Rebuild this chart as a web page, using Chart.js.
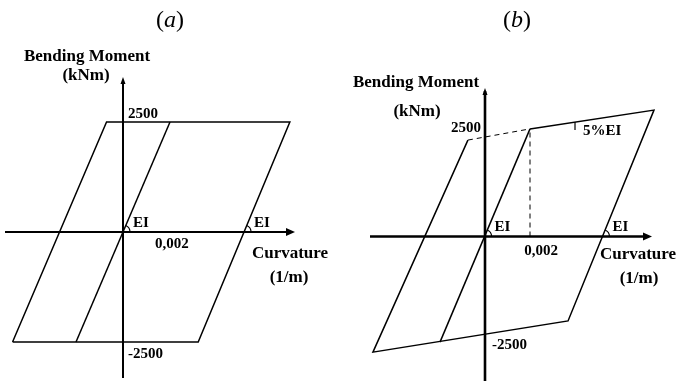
<!DOCTYPE html>
<html>
<head>
<meta charset="utf-8">
<script src="https://cdn.jsdelivr.net/npm/chart.js@4.4.0/dist/chart.umd.min.js"></script>
<style>
  body { margin: 0; background: #fff; }
  #wrap { position: relative; width: 677px; height: 381px; overflow: hidden; background: #fff; }
  canvas { position: absolute; top: 0; }
  #panelA { left: 0; }
  #panelB { left: 340px; }
</style>
</head>
<body>
<div id="wrap">
  <canvas id="panelA" width="340" height="381"></canvas>
  <canvas id="panelB" width="337" height="381"></canvas>
</div>
<script>
// ─── (a) elastic - perfectly plastic loop ─────────────────────────────────
const loopA_curv   = [-0.0047, -0.0007, 0.0071, 0.0032, -0.0047];
const loopA_moment = [-2500, 2500, 2500, -2500, -2500];
const elasticA_curv   = [-0.002, 0.002];
const elasticA_moment = [-2500, 2500];

// ─── (b) bilinear loop, 5% hardening ──────────────────────────────────────
const loopB_curv   = [-0.00076, -0.00498, 0.00369, 0.00751, 0.002];
const loopB_moment = [2410, -2890, -2110, 3160, 2690];
const elasticB_curv   = [-0.002, 0.002];
const elasticB_moment = [-2640, 2690];
const hardenB_curv   = [-0.00076, 0.002];   // dashed back-extension
const hardenB_moment = [2410, 2690];
const yieldB_curv   = [0.002, 0.002];
const yieldB_moment = [0, 2690];

// tick labels
const momentTicks = [2500, -2500];
const curvTick = 0.002;
const curvTickLabel = '0,002';

const SERIF = '"Liberation Serif", "DejaVu Serif", serif';
const xy = (c, m) => c.map((v, i) => ({ x: v, y: m[i] }));

function line(data, extra) {
  return Object.assign({
    data, showLine: true, pointRadius: 0, borderColor: '#000',
    borderWidth: 1.5, fill: false, tension: 0, clip: false,
  }, extra || {});
}

// where a segment crosses M = 0
function zeroCross(p0, p1) {
  return p0.x + (0 - p0.y) * (p1.x - p0.x) / (p1.y - p0.y);
}

function text(ctx, str, x, y, align, font) {
  ctx.font = font;
  ctx.textAlign = align;
  ctx.textBaseline = 'middle';
  ctx.fillText(str, x, y);
}

// ─── Axes, arrows, EI arcs and labels (one plugin per panel) ──────────────
function figurePlugin(o) {
  return {
    id: 'figure',
    afterDatasetsDraw(chart) {
      const { ctx, chartArea: a } = chart;
      const sx = chart.scales.x, sy = chart.scales.y;
      const ox = sx.getPixelForValue(0), oy = sy.getPixelForValue(0);
      ctx.save();
      ctx.strokeStyle = '#000';
      ctx.fillStyle = '#000';

      // axes
      ctx.lineWidth = o.axisWidth;
      ctx.beginPath();
      ctx.moveTo(a.left, oy); ctx.lineTo(a.right - 4, oy);
      ctx.moveTo(ox, a.bottom); ctx.lineTo(ox, a.top + 3);
      ctx.stroke();
      ctx.beginPath();
      ctx.moveTo(a.right, oy);
      ctx.lineTo(a.right - o.xHead[0], oy - o.xHead[1]);
      ctx.lineTo(a.right - o.xHead[0], oy + o.xHead[1]);
      ctx.closePath();
      ctx.moveTo(ox, a.top);
      ctx.lineTo(ox - o.yHead[1], a.top + o.yHead[0]);
      ctx.lineTo(ox + o.yHead[1], a.top + o.yHead[0]);
      ctx.closePath();
      ctx.fill();

      // EI arcs where the elastic branches cut the curvature axis
      ctx.lineWidth = 1.2;
      o.elastic.forEach(([p0, p1]) => {
        const px = sx.getPixelForValue(zeroCross(p0, p1));
        const ang = Math.atan2(sy.getPixelForValue(p1.y) - sy.getPixelForValue(p0.y),
                               sx.getPixelForValue(p1.x) - sx.getPixelForValue(p0.x));
        ctx.beginPath();
        ctx.arc(px, oy, 7, ang, 0);
        ctx.stroke();
        text(ctx, 'EI', px + 10, oy - 9, 'left', 'bold 15px ' + SERIF);
      });

      // hardening slope tick
      if (o.slopeTick) {
        const [p0, p1, c] = o.slopeTick;
        const m = p0.y + (c - p0.x) * (p1.y - p0.y) / (p1.x - p0.x);
        const tx = sx.getPixelForValue(c), ty = sy.getPixelForValue(m);
        ctx.lineWidth = 1.2;
        ctx.beginPath();
        ctx.moveTo(tx, ty); ctx.lineTo(tx, ty + 8);
        ctx.stroke();
        text(ctx, '5%EI', tx + 8, ty + 9, 'left', 'bold 15px ' + SERIF);
      }

      // tick labels
      const num = 'bold 15px ' + SERIF;
      momentTicks.forEach(v => {
        const t = o.momentLabel(v, ox, sy.getPixelForValue(v));
        text(ctx, String(v), t[0], t[1], t[2], num);
      });
      text(ctx, curvTickLabel, sx.getPixelForValue(curvTick) + o.curvOff[0], oy + o.curvOff[1], 'center', num);

      // axis titles
      const lab = 'bold 17px ' + SERIF;
      o.labels.forEach(l => text(ctx, l[0], l[1], l[2], 'center', lab));

      // panel title: (a) / (b) with italic letter
      ctx.textBaseline = 'middle';
      ctx.textAlign = 'left';
      ctx.font = '24px ' + SERIF;
      const wp = ctx.measureText('(').width;
      ctx.font = 'italic 24px ' + SERIF;
      const wl = ctx.measureText(o.title).width;
      let x = o.titleX - (2 * wp + wl) / 2;
      ctx.font = '24px ' + SERIF;
      ctx.fillText('(', x, 21); x += wp;
      ctx.font = 'italic 24px ' + SERIF;
      ctx.fillText(o.title, x, 21); x += wl;
      ctx.font = '24px ' + SERIF;
      ctx.fillText(')', x, 21);
      ctx.restore();
    }
  };
}

function makePanel(id, datasets, scaleX, scaleY, padding, fig) {
  return new Chart(document.getElementById(id), {
    type: 'scatter',
    data: { datasets },
    options: {
      responsive: false,
      animation: false,
      devicePixelRatio: 1,
      layout: { padding },
      scales: {
        x: Object.assign({ type: 'linear', display: false }, scaleX),
        y: Object.assign({ type: 'linear', display: false }, scaleY),
      },
      plugins: { legend: { display: false }, tooltip: { enabled: false } },
    },
    plugins: [figurePlugin(fig)],
  });
}

const loopA = xy(loopA_curv, loopA_moment);
const elasticA = xy(elasticA_curv, elasticA_moment);
makePanel('panelA',
  [line(loopA), line(elasticA)],
  { min: -0.005021, max: 0.007319 },
  { min: -3318, max: 3523 },
  { left: 5, right: 45, top: 77, bottom: 3 },
  {
    title: 'a', titleX: 170,
    axisWidth: 2, xHead: [9, 4], yHead: [7, 2.5],
    elastic: [[elasticA[0], elasticA[1]], [loopA[3], loopA[2]]],
    momentLabel: (v, ox, py) => v > 0 ? [ox + 5, py - 8, 'left'] : [ox + 5, py + 12, 'left'],
    curvOff: [2, 12],
    labels: [['Bending Moment', 87, 57], ['(kNm)', 86, 76], ['Curvature', 290, 254], ['(1/m)', 289, 278]],
  });

const loopB = xy(loopB_curv, loopB_moment);
const elasticB = xy(elasticB_curv, elasticB_moment);
makePanel('panelB',
  [line(loopB), line(elasticB),
   line(xy(hardenB_curv, hardenB_moment), { borderWidth: 1, borderDash: [5, 4] }),
   line(xy(yieldB_curv, yieldB_moment), { borderWidth: 1, borderDash: [5, 4] })],
  { min: -0.005111, max: 0.007422 },
  { min: -3612, max: 3712 },
  { left: 30, right: 25, top: 88, bottom: 0 },
  {
    title: 'b', titleX: 177,
    axisWidth: 2.6, xHead: [9, 4], yHead: [7, 2.5],
    elastic: [[elasticB[0], elasticB[1]], [loopB[2], loopB[3]]],
    slopeTick: [loopB[4], loopB[3], 0.004],
    momentLabel: (v, ox, py) => v > 0 ? [ox - 4, py - 8, 'right'] : [ox + 7, py + 9, 'left'],
    curvOff: [11, 15],
    labels: [['Bending Moment', 76, 83], ['(kNm)', 77, 112], ['Curvature', 298, 255], ['(1/m)', 299, 279]],
  });
</script>
</body>
</html>
